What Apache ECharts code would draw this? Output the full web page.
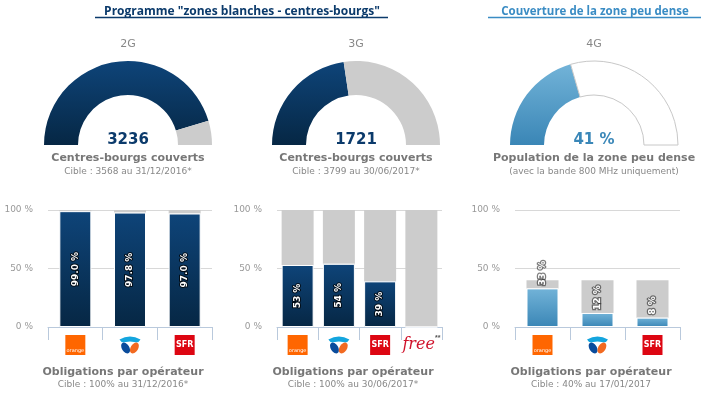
<!DOCTYPE html>
<html>
<head>
<meta charset="utf-8">
<script src="https://cdn.jsdelivr.net/npm/echarts@6/dist/echarts.min.js"></script>
<style>
  html, body { margin: 0; padding: 0; background: #fff; }
  #main { width: 703px; height: 398px; }
</style>
</head>
<body>
<div id="main"></div>
<script>
// gauges
var gaugeNames = ['2G', '3G', '4G']
var gaugeValues = [3236, 1721, 41]
var gaugeTotals = [3568, 3799, 100]
var gaugeUnits = ['', '', ' %']
var gaugeCaptions = ['Centres-bourgs couverts', 'Centres-bourgs couverts', 'Population de la zone peu dense']
var gaugeNotes = ['Cible : 3568 au 31/12/2016*', 'Cible : 3799 au 30/06/2017*', '(avec la bande 800 MHz uniquement)']

// bars per operator
var cat2G = ['Orange', 'Bouygues', 'SFR']
var val2G = [99.0, 97.8, 97.0]
var cat3G = ['Orange', 'Bouygues', 'SFR', 'Free']
var val3G = [53, 54, 39, 0]
var cat4G = ['Orange', 'Bouygues', 'SFR']
var val4G = [33, 12, 8]
var targets = [100, 100, 40]
var yTicks = [0, 50, 100]
var barNotes = ['Cible : 100% au 31/12/2016*', 'Cible : 100% au 30/06/2017*', 'Cible : 40% au 17/01/2017']

var FONT = 'DejaVu Sans'
var darkBlue = new echarts.graphic.LinearGradient(0, 0, 0, 1, [
  { offset: 0, color: '#0e4479' }, { offset: 1, color: '#062744' }])
var lightBlue = new echarts.graphic.LinearGradient(0, 0, 0, 1, [
  { offset: 0, color: '#72b3d8' }, { offset: 1, color: '#3a86b6' }])

var bouyguesSvg = '<svg xmlns="http://www.w3.org/2000/svg" width="24" height="20" viewBox="0 0 24 20">' +
  '<path d="M1.5 4.5 Q12 -1.5 22.5 4.5 Q20.5 8.5 16 7 Q12 5.8 8 7 Q3.5 8.5 1.5 4.5Z" fill="#14a5de"/>' +
  '<ellipse cx="7.6" cy="13" rx="3.7" ry="6" transform="rotate(-32 7.6 13)" fill="#0a4c9c"/>' +
  '<ellipse cx="16.4" cy="13" rx="3.7" ry="6" transform="rotate(32 16.4 13)" fill="#f26a21"/>' +
  '</svg>'
var bouyguesImg = 'data:image/svg+xml;charset=utf-8,' + encodeURIComponent(bouyguesSvg)

var logoRich = {
  orange: { width: 20, height: 5, padding: [13, 0, 2, 0], backgroundColor: '#ff6600', color: '#fff', fontSize: 5, align: 'center', fontFamily: FONT },
  bouygues: { width: 24, height: 20, backgroundColor: { image: bouyguesImg } },
  sfr: { width: 20, height: 20, lineHeight: 20, backgroundColor: '#dd0612', color: '#fff', fontSize: 8, fontWeight: 'bold', align: 'center', fontFamily: FONT },
  free: { color: '#d0122b', fontSize: 16, fontStyle: 'italic', fontFamily: 'DejaVu Serif', lineHeight: 20 },
  star: { color: '#555', fontSize: 7, fontWeight: 'bold', verticalAlign: 'top', lineHeight: 8, padding: [0, 0, 10, 0] }
}

function logo(name) {
  if (name === 'Orange') return '{orange|orange}'
  if (name === 'Bouygues') return '{bouygues| }'
  if (name === 'SFR') return '{sfr|SFR}'
  return '{free|free}{star|**}'
}

var grids = [
  { left: 48, right: 491, top: 210, bottom: 71 },
  { left: 277, right: 261, top: 210, bottom: 71 },
  { left: 515, right: 23, top: 210, bottom: 71 }
]
var cats = [cat2G, cat3G, cat4G]
var vals = [val2G, val3G, val4G]

var xAxis = cats.map(function(c, i) {
  return {
    type: 'category', gridIndex: i, data: c,
    axisLine: { lineStyle: { color: '#b9c9dc', width: 1 } },
    axisTick: { show: true, length: 13, interval: 0, lineStyle: { color: '#b9c9dc' } },
    axisLabel: { interval: 0, margin: 8, formatter: logo, rich: logoRich }
  }
})
var yAxis = cats.map(function(c, i) {
  return {
    type: 'value', gridIndex: i, min: yTicks[0], max: yTicks[2], interval: yTicks[1] - yTicks[0],
    axisLine: { show: false }, axisTick: { show: false },
    axisLabel: { formatter: '{value} %', color: '#999', fontSize: 9, fontFamily: FONT, margin: 15 },
    splitLine: { lineStyle: { color: '#d8d8d8' } }
  }
})

var labelBase = {
  show: true, rotate: 90, color: '#fff', fontSize: 9, fontWeight: 'bold', fontFamily: FONT,
  textBorderColor: 'rgba(0,0,0,0.75)', textBorderWidth: 2
}

var series = []
gaugeValues.forEach(function(v, i) {
  series.push({
    type: 'pie', center: [[128, 356, 594][i], 145], radius: [50, 84],
    startAngle: 180, clockwise: true, silent: true,
    label: { show: false }, labelLine: { show: false }, emphasis: { disabled: true },
    data: [
      { value: v, itemStyle: { color: i === 2 ? lightBlue : darkBlue } },
      { value: gaugeTotals[i] - v, itemStyle: i === 2 ? { color: '#fff', borderColor: '#c8c8c8', borderWidth: 1 } : { color: '#cccccc' } },
      { value: gaugeTotals[i], itemStyle: { color: 'rgba(0,0,0,0)' } }
    ]
  })
})

vals.forEach(function(data, i) {
  var lbl = Object.assign({}, labelBase, {
    formatter: function(p) {
      if (!p.value) return ''
      return (i === 0 ? p.value.toFixed(1) : p.value) + ' %'
    }
  })
  if (i === 2) {
    Object.assign(lbl, { position: 'top', align: 'left', verticalAlign: 'middle', distance: 3,
      textBorderColor: 'rgba(40,40,40,0.6)', textBorderWidth: 2.5 })
  } else {
    lbl.position = 'inside'
  }
  series.push({
    type: 'bar', xAxisIndex: i, yAxisIndex: i, stack: 's' + i, barWidth: 32, silent: true,
    data: data,
    itemStyle: { color: i === 2 ? lightBlue : darkBlue, borderColor: '#fff', borderWidth: 1 },
    label: lbl, z: 3
  })
  series.push({
    type: 'bar', xAxisIndex: i, yAxisIndex: i, stack: 's' + i, barWidth: 32, silent: true,
    data: data.map(function(v) { return targets[i] - v }),
    itemStyle: { color: '#cccccc' }
  })
})

function txt(x, y, text, font, color) {
  return { type: 'text', x: x, y: y, silent: true,
    style: { text: text, font: font, fill: color, align: 'center', verticalAlign: 'middle' } }
}

var graphic = [
  txt(242, 12, 'Programme "zones blanches - centres-bourgs"', 'bold 12px "Open Sans"', '#0b3a6b'),
  { type: 'line', shape: { x1: 95, y1: 17.5, x2: 388, y2: 17.5 }, style: { stroke: '#0b3a6b', lineWidth: 1.5 } },
  txt(595, 12, 'Couverture de la zone peu dense', 'bold 11.5px "Open Sans"', '#3a8cc4'),
  { type: 'line', shape: { x1: 488, y1: 17.5, x2: 701, y2: 17.5 }, style: { stroke: '#3a8cc4', lineWidth: 1.5 } }
]
var gx = [128, 356, 594]
gaugeNames.forEach(function(n, i) {
  graphic.push(txt(gx[i], 44, n, '11px ' + FONT, '#888'))
  graphic.push(txt(gx[i], 140, gaugeValues[i] + gaugeUnits[i], 'bold 15px ' + FONT, i === 2 ? '#3a87b8' : '#0b3a6b'))
  graphic.push(txt(gx[i], 158, gaugeCaptions[i], 'bold 11px ' + FONT, '#777'))
  graphic.push(txt(gx[i], 172, gaugeNotes[i], '9px ' + FONT, '#888'))
})
var fx = [123, 353, 591]
barNotes.forEach(function(n, i) {
  graphic.push(txt(fx[i], 372, 'Obligations par opérateur', 'bold 11px ' + FONT, '#777'))
  graphic.push(txt(fx[i], 385, n, '9px ' + FONT, '#888'))
})

var chart = echarts.init(document.getElementById('main'))
chart.setOption({
  animation: false,
  backgroundColor: '#fff',
  grid: grids,
  xAxis: xAxis,
  yAxis: yAxis,
  series: series,
  graphic: graphic
})
</script>
</body>
</html>
